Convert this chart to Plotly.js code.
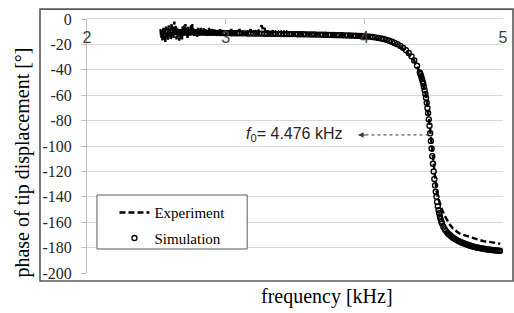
<!DOCTYPE html>
<html><head><meta charset="utf-8">
<script src="https://cdn.plot.ly/plotly-3.0.1.min.js"></script>
<style>html,body{margin:0;padding:0;background:#fff}#chart{width:514px;height:313px}</style>
</head><body><div id="chart"></div>
<script>
// ---- data ----
const xTicks = [2, 3, 4, 5];
const yTicks = [0, -20, -40, -60, -80, -100, -120, -140, -160, -180, -200];
const yTickLabels = ['0', '-20', '-40', '-60', '-80', '-100', '-120', '-140', '-160', '-180', '-200'];

const expFreq = [
2.530,2.535,2.540,2.545,2.550,2.555,2.560,2.565,2.570,2.575,
2.580,2.585,2.590,2.595,2.600,2.605,2.610,2.615,2.620,2.625,
2.630,2.635,2.640,2.645,2.650,2.655,2.660,2.665,2.670,2.675,
2.680,2.685,2.690,2.695,2.700,2.705,2.710,2.715,2.720,2.725,
2.730,2.735,2.740,2.745,2.750,2.755,2.760,2.765,2.770,2.775,
2.780,2.785,2.790,2.795,2.800,2.805,2.810,2.815,2.820,2.825,
2.830,2.835,2.840,2.845,2.850,2.855,2.860,2.865,2.870,2.875,
2.880,2.885,2.890,2.895,2.900,
2.91,2.92,2.93,2.94,2.95,2.96,2.97,2.98,2.99,3.00,
3.01,3.02,3.03,3.04,3.05,3.06,3.07,3.08,3.09,3.10,
3.11,3.12,3.13,3.14,3.15,3.16,3.17,3.18,3.19,3.20,
3.21,3.22,3.23,3.24,3.25,3.26,3.27,3.28,3.29,3.30,
3.31,3.32,3.33,3.34,3.35,3.36,3.37,3.38,3.39,3.40,
3.41,3.42,3.43,3.44,3.45,3.46,3.47,3.48,3.49,3.50,
3.52,3.54,3.56,3.58,3.60,3.62,3.64,3.66,3.68,3.70,
3.72,3.74,3.76,3.78,3.80,3.82,3.84,3.86,3.88,3.90,
3.92,3.94,3.96,3.98,4.00,4.02,4.04,4.06,4.08,4.10,
4.12,4.14,4.16,4.18,4.20,4.22,4.24,4.26,4.28,4.30,
4.32,4.34,4.36,4.38,4.40,
4.41,4.42,4.43,4.44,4.45,4.46,4.47,4.48,4.49,4.50,4.51,4.52,4.53,4.54,
4.56,4.58,4.60,4.62,4.64,4.66,4.68,4.70,
4.74,4.78,4.82,4.86,4.90,4.94,4.98];
const expPhase = [
-8,-15,-10,-17,-7,-16,-9,-18,-6,-14,
-11,-17,-5,-15,-8,-16,-3,-13,-6,-15,
-2,-12,-5,-16,-7,-14,-9,-17,-8,-15,
-10,-16,-6,-14,-5,-13,-4,-12,-7,-15,
-6,-14,-8,-13,-5,-12,-4,-13,-7,-14,
-8,-13,-9,-14,-7,-13,-8,-12,-7,-13,
-9,-12,-7,-13,-8,-12,-9,-13,-8,-12,
-7,-13,-9,-12,-8,
-12,-8,-11,-10,-13,-8,-12,-9,-11,-10,
-13,-9,-12,-8,-11,-10,-12,-9,-11,-8,
-12,-10,-11,-9,-12,-10,-11,-8,-12,-10,
-11,-9,-12,-8,-7,-5,-9,-7,-11,-9,
-12,-10,-11,-9,-12,-10,-11,-10,-12,-10,
-11,-10,-12,-10,-11,-11,-12,-10,-12,-11,
-12,-11,-12.5,-11,-12,-11.5,-12.5,-11.5,-12,-12.5,
-11.5,-12.5,-12,-13,-12,-13,-12.5,-13,-12.5,-13.5,
-13,-13.5,-13,-13.5,-13.5,-14,-14,-14.5,-15,-15.5,
-16,-16.5,-17.5,-18.5,-19.5,-20.5,-21.5,-22.5,-24,-25.5,
-27.5,-30,-33,-37,-42,
-45,-49,-53,-58,-64,-72,-82,-93,-105,-117,-128,-135,-140,-144,
-150,-155,-159,-162.5,-165,-167,-168.5,-169.5,
-171,-172.5,-174,-175,-175.5,-176.5,-177];

const simFreq = [
2.56,2.58,2.60,2.62,2.64,2.66,2.68,2.70,2.72,2.74,2.76,2.78,2.80,2.82,2.84,2.86,2.88,2.90,2.92,2.94,2.96,2.98,
3.00,3.02,3.04,3.06,3.08,3.10,3.12,3.14,3.16,3.18,
3.20,3.22,3.24,3.26,3.28,3.30,3.32,3.34,3.36,3.38,
3.40,3.42,3.44,3.46,3.48,3.50,3.52,3.54,3.56,3.58,
3.60,3.62,3.64,3.66,3.68,3.70,3.72,3.74,3.76,3.78,
3.80,3.82,3.84,3.86,3.88,3.90,3.92,3.94,3.96,3.98,
4.00,4.02,4.04,4.06,4.08,4.10,4.12,4.14,4.16,4.18,4.20,4.22,4.24,4.26,4.28,4.30,4.32,4.34,4.36,4.38,
4.400,4.405,4.410,4.415,4.420,4.425,4.430,4.435,4.440,4.445,4.450,4.455,4.460,4.465,4.470,4.475,
4.480,4.485,4.490,4.495,4.500,4.505,4.510,4.515,4.520,4.525,4.530,4.535,4.540,4.545,4.550,4.555,4.560,
4.57,4.58,4.59,4.60,4.61,4.62,4.63,4.64,4.65,4.66,
4.67,4.68,4.69,4.70,4.71,4.72,4.73,4.74,4.75,4.76,
4.77,4.78,4.79,4.80,4.81,4.82,4.83,4.84,4.85,4.86,
4.87,4.88,4.89,4.90,4.91,4.92,4.93,4.94,4.95,4.96,4.97,4.98];
const simPhase = [
-10.0,-10.1,-10.1,-10.2,-10.2,-10.3,-10.3,-10.4,-10.4,-10.5,-10.5,-10.6,-10.6,-10.7,-10.7,-10.8,-10.8,-10.9,-10.9,-11.0,-11.0,-11.1,
-11.1,-11.1,-11.2,-11.2,-11.2,-11.3,-11.3,-11.3,-11.4,-11.4,
-11.4,-11.5,-11.5,-11.5,-11.6,-11.6,-11.6,-11.7,-11.7,-11.7,
-11.8,-11.8,-11.8,-11.9,-11.9,-11.9,-12.0,-12.0,-12.0,-12.1,
-12.1,-12.2,-12.2,-12.3,-12.3,-12.4,-12.4,-12.5,-12.5,-12.6,
-12.7,-12.7,-12.8,-12.9,-12.9,-13.0,-13.1,-13.2,-13.3,-13.4,
-13.5,-13.7,-13.9,-14.2,-14.5,-14.9,-15.3,-15.8,-16.4,-17.1,-17.9,-18.8,-19.9,-21.2,-22.7,-24.5,-26.7,-29.4,-32.7,-36.8,
-42,-43.5,-45,-47,-49,-51,-53.5,-56,-59,-62,-66,-70,-74,-79,-84,-90,
-96,-102,-108,-114,-120,-126,-131,-136,-140,-144,-147.5,-150.5,-153,-155.5,-157.5,-159.5,-161,
-163.5,-165.5,-167,-168.5,-169.5,-170.5,-171.5,-172.3,-173,-173.7,
-174.3,-174.9,-175.4,-175.9,-176.4,-176.8,-177.2,-177.6,-178,-178.4,
-178.7,-179,-179.3,-179.6,-179.9,-180.1,-180.3,-180.5,-180.7,-180.9,
-181.1,-181.3,-181.4,-181.6,-181.7,-181.9,-182,-182.1,-182.3,-182.4,-182.5,-182.6];

const f0 = 4.476;          // resonance frequency marked on the chart
const f0Phase = -91.3;     // phase level of the marker arrow
const f0LabelFreq = 3.13;  // where the label starts
const arrowTipFreq = 3.955;

const serif = '"Liberation Serif", "Times New Roman", serif';
const sans = '"Liberation Sans", Arial, sans-serif';

const traces = [
  {x: simFreq, y: simPhase, name: 'Simulation', type: 'scatter', mode: 'markers',
   legendgroup: 'sim', legendrank: 2,
   marker: {symbol: 'circle-open', size: 5, color: '#000', line: {width: 1.4, color: '#000'}}},
  {x: expFreq, y: expPhase, name: 'Experiment', type: 'scatter', mode: 'lines',
   legendgroup: 'exp', legendrank: 1,
   line: {color: '#000', width: 2.4, dash: '6px,3px'}}
];

const layout = {
  width: 514, height: 313,
  margin: {l: 87, r: 11, t: 19, b: 40, pad: 0},
  paper_bgcolor: '#fff', plot_bgcolor: '#fff',
  showlegend: true,
  legend: {x: 0.066, y: 0.302, xanchor: 'left', yanchor: 'top',
           bgcolor: 'rgba(0,0,0,0)', borderwidth: 0,
           font: {family: serif, size: 15, color: '#000'},
           tracegroupgap: 3, traceorder: 'grouped'},
  xaxis: {range: [2, 5], side: 'top', tickvals: xTicks, ticks: 'inside', ticklen: 5,
          tickcolor: '#bfbfbf', showline: true, linecolor: '#d9d9d9', linewidth: 1,
          showgrid: false, zeroline: false, ticklabelposition: 'inside',
          ticklabeloverflow: 'allow', ticklabelstandoff: 8,
          tickfont: {family: sans, size: 16, color: '#404040'}},
  yaxis: {range: [-200, 0], tickvals: yTicks, ticktext: yTickLabels, ticks: 'outside', ticklen: 5,
          tickcolor: '#bfbfbf', showline: true, linecolor: '#bfbfbf', linewidth: 1,
          showgrid: true, gridcolor: '#d9d9d9', gridwidth: 1, zeroline: false,
          ticklabelstandoff: 6,
          tickfont: {family: serif, size: 16, color: '#262626'}},
  shapes: [
    {type: 'rect', xref: 'paper', yref: 'paper', x0: -0.113, x1: 1.024, y0: -0.0315, y1: 1.039,
     line: {color: '#595959', width: 1.6}, fillcolor: 'rgba(0,0,0,0)', layer: 'above'},
    {type: 'rect', xref: 'paper', yref: 'paper', x0: 0.024, x1: 0.385, y0: 0.0945, y1: 0.307,
     line: {color: '#595959', width: 1}, fillcolor: '#fff', layer: 'above'},
    {type: 'line', xref: 'x', yref: 'y', x0: arrowTipFreq + 0.01, x1: f0 - 0.015, y0: f0Phase, y1: f0Phase,
     line: {color: '#333', width: 1, dash: 'dot'}, layer: 'above'}
  ],
  annotations: [
    {xref: 'x', yref: 'y', x: f0LabelFreq, y: f0Phase, xanchor: 'left', yanchor: 'middle',
     text: '<i>f</i><sub>0</sub>= ' + f0.toFixed(3) + ' kHz', showarrow: false,
     font: {family: sans, size: 16, color: '#262626'}},
    {xref: 'x', yref: 'y', x: arrowTipFreq, y: f0Phase, ax: 9, ay: 0, text: '', showarrow: true,
     arrowhead: 2, arrowsize: 1.1, arrowwidth: 1, arrowcolor: '#333'},
    {xref: 'paper', yref: 'paper', x: -0.156, y: 0.435, text: 'phase of tip displacement [°]',
     textangle: -90, showarrow: false, xanchor: 'center', yanchor: 'middle',
     font: {family: serif, size: 20, color: '#000'}},
    {xref: 'paper', yref: 'paper', x: 0.577, y: -0.094, text: 'frequency [kHz]',
     showarrow: false, xanchor: 'center', yanchor: 'middle',
     font: {family: serif, size: 20, color: '#000'}}
  ]
};

Plotly.newPlot('chart', traces, layout, {staticPlot: true, displayModeBar: false});
</script></body></html>
